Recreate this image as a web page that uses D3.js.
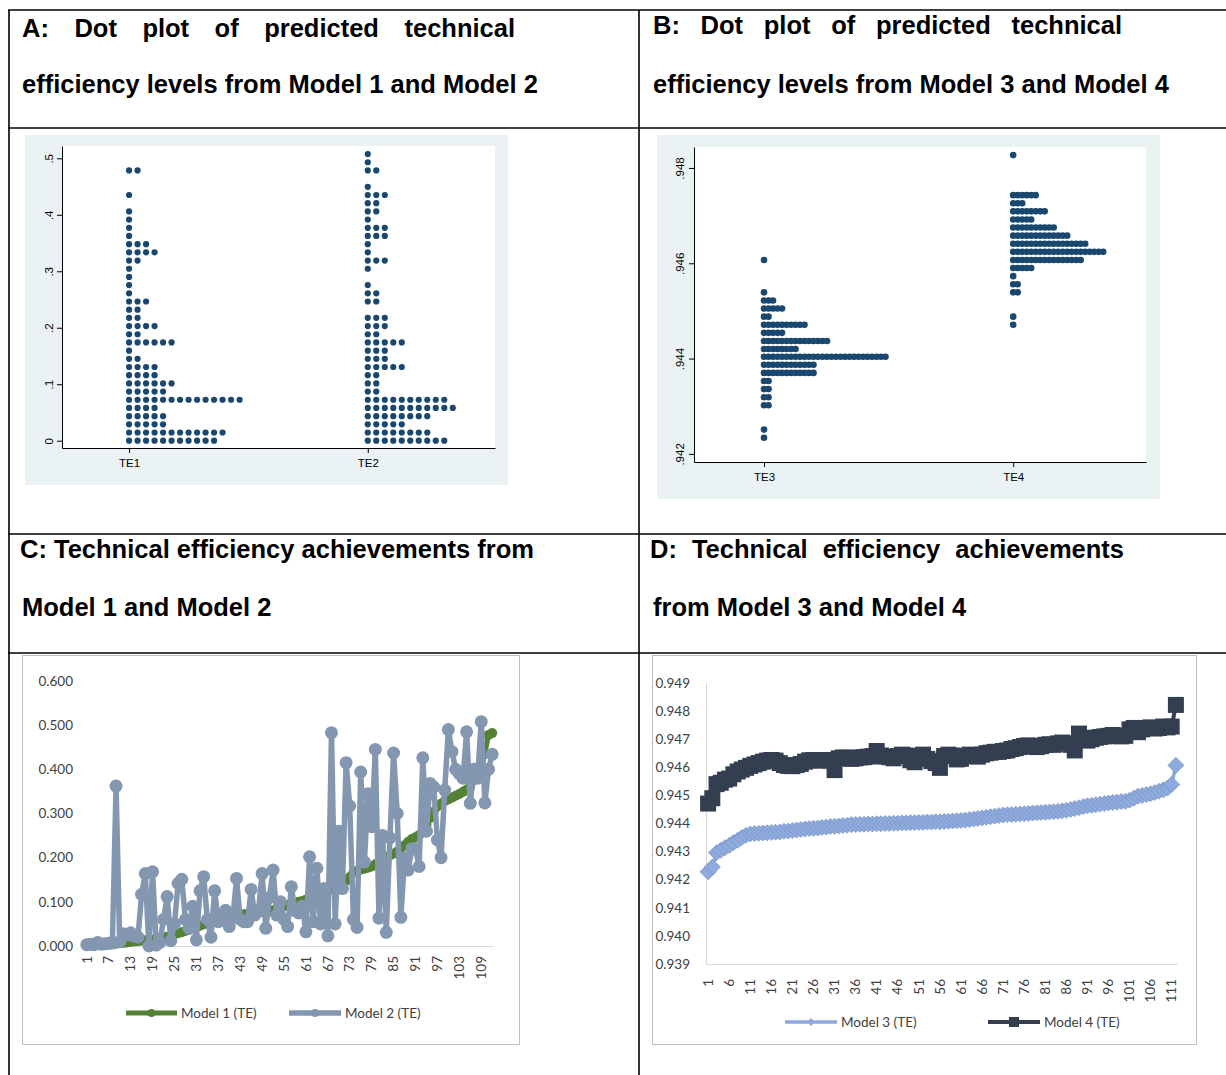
<!DOCTYPE html>
<html>
<head>
<meta charset="utf-8">
<script src="https://cdn.jsdelivr.net/npm/d3@7"></script>
<style>
body { margin: 0; background: #fff; }
svg { display: block; }
.title { font-family: "Liberation Sans", Arial, sans-serif; font-weight: bold; font-size: 25.5px; fill: #000; }
.stata text { font-family: "Liberation Sans", Arial, sans-serif; font-size: 11.5px; fill: #000; }
.excel text { font-family: Lato, "Open Sans", sans-serif; font-size: 13.5px; fill: #404040; }
</style>
</head>
<body>
<div id="chart"></div>
<script>
// ---- Panel A: dot plot TE1 / TE2 (bin value + number of dots per bin)
var groupsA = ["TE1", "TE2"];
var binsA = [0.0000, 0.0145, 0.0290, 0.0435, 0.0580, 0.0725, 0.0870, 0.1015, 0.1160, 0.1305,
             0.1450, 0.1595, 0.1740, 0.1885, 0.2030, 0.2175, 0.2320, 0.2465, 0.2610, 0.2755,
             0.2900, 0.3045, 0.3190, 0.3335, 0.3480, 0.3625, 0.3770, 0.3915, 0.4060, 0.4205,
             0.4350, 0.4495, 0.4640, 0.4785, 0.4930, 0.5075];
var countsTE1 = [11, 12, 5, 5, 4, 14, 5, 6, 4, 4, 2, 1, 6, 2, 4, 2, 2, 3,
                 1, 1, 1, 1, 2, 4, 3, 1, 1, 1, 1, 0, 1, 0, 0, 2, 0, 0];
var countsTE2 = [10, 8, 5, 8, 11, 10, 2, 2, 2, 5, 3, 3, 5, 2, 3, 3, 0, 2,
                 2, 1, 0, 1, 3, 1, 1, 3, 3, 1, 2, 2, 3, 1, 0, 2, 1, 1];
var ticksA = [0, 0.1, 0.2, 0.3, 0.4, 0.5];
var tickLabelsA = ["0", ".1", ".2", ".3", ".4", ".5"];

// ---- Panel B: dot plot TE3 / TE4
var groupsB = ["TE3", "TE4"];
var binsB = [0.94234, 0.94251, 0.94268, 0.94285, 0.94302, 0.94319, 0.94336, 0.94353, 0.94370, 0.94387,
             0.94404, 0.94420, 0.94437, 0.94454, 0.94471, 0.94488, 0.94505, 0.94522, 0.94539, 0.94556,
             0.94573, 0.94590, 0.94607, 0.94624, 0.94641, 0.94658, 0.94675, 0.94692, 0.94709, 0.94726,
             0.94743, 0.94760, 0.94776, 0.94793, 0.94810, 0.94827];
var countsTE3 = [1, 1, 0, 0, 2, 2, 2, 2, 12, 12, 28, 8, 15, 5, 10, 2, 5, 3,
                 1, 0, 0, 0, 1, 0, 0, 0, 0, 0, 0, 0, 0, 0, 0, 0, 0, 0];
var countsTE4 = [0, 0, 0, 0, 0, 0, 0, 0, 0, 0, 0, 0, 0, 0, 1, 1, 0, 0,
                 2, 2, 1, 5, 16, 21, 17, 13, 10, 5, 8, 3, 6, 0, 0, 0, 0, 1];
var ticksB = [0.942, 0.944, 0.946, 0.948];
var tickLabelsB = [".942", ".944", ".946", ".948"];

// ---- Panel C: TE by observation, Model 1 and Model 2
var model1 = [0.001,0.001,0.002,0.002,0.003,0.003,0.004,0.004,0.005,0.006,
              0.007,0.008,0.009,0.010,0.011,0.012,0.013,0.014,0.015,0.016,
              0.018,0.019,0.021,0.023,0.026,0.029,0.031,0.034,0.037,0.040,
              0.043,0.046,0.049,0.052,0.055,0.058,0.062,0.066,0.067,0.068,
              0.069,0.070,0.071,0.072,0.073,0.074,0.075,0.076,0.077,0.078,
              0.079,0.081,0.084,0.087,0.090,0.093,0.095,0.097,0.100,0.102,
              0.105,0.107,0.110,0.114,0.118,0.122,0.125,0.129,0.133,0.136,
              0.140,0.148,0.156,0.167,0.170,0.173,0.175,0.177,0.180,0.185,
              0.191,0.197,0.201,0.205,0.209,0.214,0.221,0.228,0.236,0.242,
              0.246,0.251,0.260,0.275,0.290,0.304,0.316,0.322,0.328,0.332,
              0.336,0.340,0.344,0.349,0.354,0.362,0.376,0.391,0.406,0.435,
              0.478,0.482];
var model2 = [0.003,0.004,0.003,0.008,0.004,0.005,0.006,0.007,0.362,0.010,
              0.028,0.025,0.030,0.022,0.020,0.117,0.164,0.000,0.168,0.002,
              0.008,0.060,0.112,0.012,0.050,0.142,0.151,0.060,0.040,0.090,
              0.014,0.125,0.157,0.060,0.020,0.125,0.055,0.070,0.081,0.044,
              0.065,0.153,0.060,0.055,0.055,0.128,0.070,0.080,0.164,0.040,
              0.110,0.172,0.070,0.100,0.060,0.044,0.134,0.080,0.075,0.090,
              0.032,0.202,0.055,0.176,0.050,0.130,0.023,0.483,0.050,0.260,
              0.130,0.415,0.317,0.060,0.042,0.394,0.190,0.345,0.270,0.445,
              0.063,0.250,0.031,0.245,0.437,0.300,0.065,0.200,0.172,0.220,
              0.220,0.180,0.426,0.260,0.368,0.360,0.240,0.200,0.353,0.490,
              0.440,0.400,0.390,0.380,0.485,0.323,0.400,0.380,0.508,0.324,
              0.400,0.434];
var ticksC = [0, 0.1, 0.2, 0.3, 0.4, 0.5, 0.6];
var catLabelsC = ["1","7","13","19","25","31","37","43","49","55","61","67","73","79","85","91","97","103","109"];

// ---- Panel D: TE by observation, Model 3 and Model 4
var model3 = [0.94228,0.94245,0.94296,0.94305,0.94314,0.94322,0.94332,0.94340,0.94350,0.94358,
              0.94363,0.94364,0.94365,0.94366,0.94367,0.94368,0.94369,0.94370,0.94372,0.94373,
              0.94375,0.94377,0.94379,0.94380,0.94382,0.94383,0.94384,0.94386,0.94387,0.94389,
              0.94390,0.94391,0.94393,0.94394,0.94396,0.94396,0.94397,0.94397,0.94398,0.94398,
              0.94399,0.94399,0.94400,0.94400,0.94401,0.94401,0.94402,0.94402,0.94403,0.94403,
              0.94404,0.94404,0.94405,0.94405,0.94406,0.94406,0.94407,0.94408,0.94409,0.94410,
              0.94411,0.94412,0.94414,0.94416,0.94418,0.94420,0.94422,0.94424,0.94426,0.94428,
              0.94430,0.94431,0.94432,0.94433,0.94434,0.94435,0.94436,0.94437,0.94438,0.94439,
              0.94440,0.94441,0.94442,0.94443,0.94445,0.94447,0.94450,0.94453,0.94456,0.94460,
              0.94463,0.94465,0.94467,0.94469,0.94471,0.94473,0.94475,0.94476,0.94478,0.94479,
              0.94483,0.94490,0.94497,0.94500,0.94503,0.94506,0.94510,0.94515,0.94520,0.94526,
              0.94539,0.94607];
var model4 = [0.94471,0.94490,0.94540,0.94545,0.94556,0.94560,0.94575,0.94585,0.94592,0.94598,
              0.94605,0.94610,0.94615,0.94620,0.94624,0.94626,0.94624,0.94615,0.94608,0.94605,
              0.94604,0.94608,0.94612,0.94620,0.94625,0.94626,0.94624,0.94625,0.94626,0.94624,
              0.94590,0.94632,0.94635,0.94634,0.94630,0.94632,0.94635,0.94636,0.94638,0.94640,
              0.94658,0.94642,0.94638,0.94636,0.94632,0.94640,0.94645,0.94642,0.94625,0.94618,
              0.94640,0.94645,0.94630,0.94622,0.94615,0.94598,0.94640,0.94645,0.94642,0.94628,
              0.94630,0.94640,0.94645,0.94640,0.94638,0.94645,0.94650,0.94652,0.94655,0.94655,
              0.94658,0.94660,0.94665,0.94668,0.94672,0.94676,0.94678,0.94675,0.94672,0.94675,
              0.94680,0.94682,0.94680,0.94685,0.94688,0.94685,0.94680,0.94660,0.94720,0.94705,
              0.94695,0.94700,0.94705,0.94708,0.94710,0.94712,0.94715,0.94712,0.94710,0.94712,
              0.94735,0.94740,0.94725,0.94735,0.94740,0.94742,0.94738,0.94740,0.94745,0.94742,
              0.94745,0.94822];
var ticksD = [0.939, 0.940, 0.941, 0.942, 0.943, 0.944, 0.945, 0.946, 0.947, 0.948, 0.949];
var catLabelsD = ["1","6","11","16","21","26","31","36","41","46","51","56","61","66","71","76","81","86","91","96","101","106","111"];

var width = 1226, height = 1075;
var svg = d3.select("#chart").append("svg")
  .attr("width", width)
  .attr("height", height);

// ---------- table frame
var lines = [
  [8, 10, 1226, 10], [8, 128, 1226, 128], [8, 534, 1226, 534], [8, 653, 1226, 653],
  [9, 10, 9, 1075], [639, 10, 639, 1075]
];
svg.selectAll("line.frame").data(lines).enter().append("line")
  .attr("class", "frame")
  .attr("x1", function (d) { return d[0]; }).attr("y1", function (d) { return d[1]; })
  .attr("x2", function (d) { return d[2]; }).attr("y2", function (d) { return d[3]; })
  .attr("stroke", "#000").attr("stroke-width", 1.6);

// ---------- headings (first lines are justified)
function title(x, y, str, w) {
  if (!w) {
    svg.append("text").attr("class", "title").attr("x", x).attr("y", y).text(str);
    return;
  }
  var words = str.split(" ");
  var tmp = svg.append("text").attr("class", "title");
  var widths = words.map(function (wd) { tmp.text(wd); return tmp.node().getComputedTextLength(); });
  tmp.remove();
  var gap = (w - d3.sum(widths)) / (words.length - 1);
  var cx = x;
  words.forEach(function (wd, i) {
    svg.append("text").attr("class", "title").attr("x", cx).attr("y", y).text(wd);
    cx += widths[i] + gap;
  });
}
title(22, 37, "A: Dot plot of predicted technical", 493);
title(22, 93, "efficiency levels from Model 1 and Model 2");
title(653, 34, "B: Dot plot of predicted technical", 469);
title(653, 93, "efficiency levels from Model 3 and Model 4");
title(20, 558, "C: Technical efficiency achievements from", 514);
title(22, 616, "Model 1 and Model 2");
title(650, 558, "D: Technical efficiency achievements", 474);
title(653, 616, "from Model 3 and Model 4");

// ---------- Stata style dot plots
function dotPanel(p) {
  var g = svg.append("g").attr("class", "stata");
  g.append("rect")
    .attr("x", p.box[0]).attr("y", p.box[1])
    .attr("width", p.box[2] - p.box[0]).attr("height", p.box[3] - p.box[1])
    .attr("fill", "#eaf2f3");
  g.append("rect")
    .attr("x", p.plot[0]).attr("y", p.plot[2])
    .attr("width", p.plot[1] - p.plot[0]).attr("height", p.plot[3] - p.plot[2])
    .attr("fill", "#fff");

  var x = d3.scaleLinear().domain([0.719, 2.533]).range([p.plot[0], p.plot[1]]);
  var y = d3.scaleLinear().domain(p.ydom).range([p.plot[3], p.plot[2]]);

  p.groups.forEach(function (name, gi) {
    var dots = [];
    p.counts[gi].forEach(function (c, bi) {
      for (var j = 0; j < c; j++) dots.push({ v: p.bins[bi], j: j });
    });
    g.append("g").selectAll("circle")
      .data(dots).enter().append("circle")
      .attr("cx", function (d) { return x(gi + 1) + d.j * p.step; })
      .attr("cy", function (d) { return y(d.v); })
      .attr("r", p.r)
      .attr("fill", "#1a476f");
  });

  var ya = g.append("g")
    .attr("transform", "translate(" + p.plot[0] + ",0)")
    .call(d3.axisLeft(y).tickValues(p.ticks)
      .tickFormat(function (d, i) { return p.tickLabels[i]; })
      .tickSize(5).tickSizeOuter(0));
  ya.selectAll("text")
    .attr("x", 0).attr("y", -p.labOff).attr("dy", 0)
    .attr("text-anchor", "middle")
    .attr("transform", "rotate(-90)");

  g.append("g")
    .attr("transform", "translate(0," + p.plot[3] + ")")
    .call(d3.axisBottom(x).tickValues([1, 2])
      .tickFormat(function (d) { return p.groups[d - 1]; })
      .tickSize(5).tickSizeOuter(0).tickPadding(6));

  g.selectAll(".domain, .tick line").attr("stroke", "#000").attr("stroke-width", 1);
  g.selectAll(".tick text").attr("font-family", null).attr("font-size", null).attr("fill", "#000");
}

dotPanel({
  box: [25, 135, 508, 485], plot: [62, 495, 146, 448],
  ydom: [-0.0129, 0.5218], groups: groupsA, bins: binsA, counts: [countsTE1, countsTE2],
  ticks: ticksA, tickLabels: tickLabelsA, step: 8.5, r: 3.1, labOff: 9
});
dotPanel({
  box: [657, 135, 1160, 499], plot: [694, 1146, 147, 462],
  ydom: [0.94183, 0.94844], groups: groupsB, bins: binsB, counts: [countsTE3, countsTE4],
  ticks: ticksB, tickLabels: tickLabelsB, step: 4.5, r: 3.3, labOff: 10
});

// ---------- Excel style line charts
function linePanel(p) {
  var g = svg.append("g").attr("class", "excel");
  g.append("rect")
    .attr("x", p.box[0] + 0.5).attr("y", p.box[1] + 0.5)
    .attr("width", p.box[2] - p.box[0]).attr("height", p.box[3] - p.box[1])
    .attr("fill", "#fff").attr("stroke", "#bfbfbf").attr("stroke-width", 1);

  var cats = d3.range(1, p.series[0].values.length + 1);
  var x = d3.scalePoint().domain(cats).range([p.xr[0], p.xr[1]]).padding(0.5);
  var y = d3.scaleLinear().domain(p.ydom).range([p.yr[0], p.yr[1]]);

  // axis lines
  g.append("line").attr("x1", p.xr[0]).attr("x2", p.xr[1])
    .attr("y1", p.yr[0] + 0.5).attr("y2", p.yr[0] + 0.5).attr("stroke", "#d9d9d9");
  if (p.yline) {
    g.append("line").attr("x1", p.xr[0] + 0.5).attr("x2", p.xr[0] + 0.5)
      .attr("y1", p.yr[0]).attr("y2", p.yr[1]).attr("stroke", "#d9d9d9");
  }

  // value labels
  g.append("g").selectAll("text").data(p.ticks).enter().append("text")
    .attr("x", p.ylabX).attr("y", function (d) { return y(d); })
    .attr("dy", "0.35em").attr("text-anchor", "end")
    .text(d3.format(".3f"));

  // category labels (rotated)
  g.append("g").selectAll("text").data(p.catLabels).enter().append("text")
    .attr("transform", function (d) { return "translate(" + x(+d) + "," + p.xlabY + ") rotate(-90)"; })
    .attr("dy", "0.35em").attr("text-anchor", "end")
    .text(function (d) { return d; });

  p.series.forEach(function (s) {
    var sg = g.append("g");
    sg.append("path")
      .datum(s.values)
      .attr("fill", "none").attr("stroke", s.color).attr("stroke-width", s.lw)
      .attr("stroke-linejoin", "round").attr("stroke-linecap", "round")
      .attr("d", d3.line().x(function (d, i) { return x(i + 1); }).y(function (d) { return y(d); }));
    var m = sg.selectAll(".m").data(s.values).enter();
    var h = s.ms;
    if (s.marker === "circle") {
      m.append("circle").attr("cx", function (d, i) { return x(i + 1); })
        .attr("cy", function (d) { return y(d); }).attr("r", h)
        .attr("fill", s.color);
    } else if (s.marker === "diamond") {
      m.append("path").attr("d", "M0," + -h + "L" + h + ",0L0," + h + "L" + -h + ",0Z")
        .attr("transform", function (d, i) { return "translate(" + x(i + 1) + "," + y(d) + ")"; })
        .attr("fill", s.color).attr("stroke", s.edge).attr("stroke-width", 0.8);
    } else {
      m.append("rect").attr("x", function (d, i) { return x(i + 1) - h; })
        .attr("y", function (d) { return y(d) - h; })
        .attr("width", h * 2).attr("height", h * 2)
        .attr("fill", s.color);
    }
  });

  // legend
  p.legend.forEach(function (l, i) {
    var s = p.series[i];
    var lg = g.append("g");
    lg.append("line").attr("x1", l.x0).attr("x2", l.x1).attr("y1", p.legY).attr("y2", p.legY)
      .attr("stroke", s.color).attr("stroke-width", s.lw);
    var mx = (l.x0 + l.x1) / 2;
    if (s.marker === "circle") {
      lg.append("circle").attr("cx", mx).attr("cy", p.legY).attr("r", 4).attr("fill", s.color);
    } else if (s.marker === "diamond") {
      lg.append("path").attr("d", "M0,-4L4,0L0,4L-4,0Z")
        .attr("transform", "translate(" + mx + "," + p.legY + ")").attr("fill", s.color);
    } else {
      lg.append("rect").attr("x", mx - 5).attr("y", p.legY - 5).attr("width", 10).attr("height", 10)
        .attr("fill", s.color);
    }
    lg.append("text").attr("x", l.x1 + 4).attr("y", p.legY).attr("dy", "0.35em").text(s.name);
  });
}

linePanel({
  box: [22, 655, 519, 1044], xr: [85, 494], yr: [946, 681], ydom: [0, 0.6],
  ticks: ticksC, catLabels: catLabelsC, ylabX: 73, xlabY: 956, legY: 1013,
  series: [
    { name: "Model 1 (TE)", values: model1, color: "#548235", lw: 5, marker: "circle", ms: 5 },
    { name: "Model 2 (TE)", values: model2, color: "#8497b0", lw: 5.5, marker: "circle", ms: 6.5 }
  ],
  legend: [{ x0: 126, x1: 177 }, { x0: 289, x1: 341 }]
});
linePanel({
  box: [652, 655, 1196, 1044], xr: [706, 1178], yr: [964, 683], ydom: [0.939, 0.949],
  ticks: ticksD, catLabels: catLabelsD, ylabX: 690, xlabY: 979, legY: 1022, yline: true,
  series: [
    { name: "Model 3 (TE)", values: model3, color: "#8faadc", edge: "#7b95c6", lw: 3.5, marker: "diamond", ms: 8 },
    { name: "Model 4 (TE)", values: model4, color: "#333f50", lw: 4, marker: "square", ms: 8 }
  ],
  legend: [{ x0: 785, x1: 837 }, { x0: 988, x1: 1040 }]
});
</script>
</body>
</html>
